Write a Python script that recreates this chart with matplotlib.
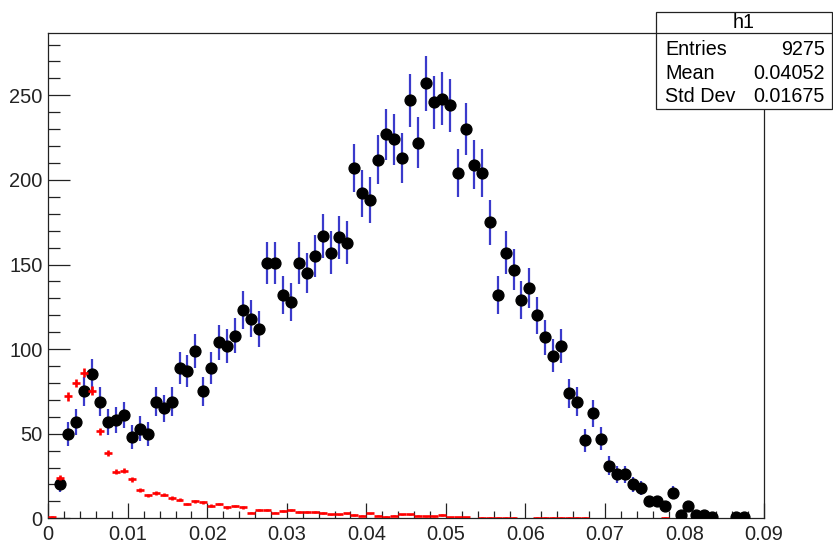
import numpy as np
import matplotlib
matplotlib.use('Agg')
import matplotlib.pyplot as plt
from matplotlib.ticker import MultipleLocator, FuncFormatter
from matplotlib.patches import Rectangle
from matplotlib.lines import Line2D

plt.rcParams['font.family'] = ['Liberation Sans', 'DejaVu Sans']

# binning: 90 bins of width 0.001 from 0 to 0.09
bin_width = 0.001
bin_centers = np.arange(90) * bin_width + 0.5 * bin_width

# h1 contents (black points), one per bin
h1_counts = [0, 20, 50, 57, 75, 85, 69, 57, 58, 61,
             48, 53, 50, 69, 65, 69, 89, 87, 99, 75,
             89, 104, 102, 108, 123, 118, 112, 151, 151, 132,
             128, 151, 145, 155, 167, 157, 166, 163, 207, 192,
             188, 212, 227, 224, 213, 247, 222, 257, 246, 248,
             244, 204, 230, 209, 204, 175, 132, 157, 147, 129,
             136, 120, 107, 96, 102, 74, 69, 46, 62, 47,
             31, 26, 26, 20, 18, 10, 10, 7, 15, 2,
             7, 2, 2, 1, 0, 0, 1, 1, 0, 0]

# scaled reference histogram (red)
h2_counts = [1.0, 24, 72, 80, 86, 75.5, 51.5, 38.5, 27.5, 28,
             23, 17, 13.5, 15, 14, 12, 11, 8.5, 10, 9.4,
             7.5, 8.4, 6.4, 7.3, 6.4, 3.4, 4.9, 4.9, 3.4, 4.3,
             4.9, 3.9, 3.9, 3.9, 3.3, 2.3, 2.3, 2.9, 2.0, 1.5,
             2.9, 1.4, 1.0, 1.5, 2.3, 2.3, 1.4, 1.3, 1.2, 2.0,
             0.5, 0.5, 0.5, 0, 0.4, 0.4, 0.4, 0.4, 0.4, 0,
             0, 0.4, 0.4, 0.4, 0.4, 0.4, 0.4, 0.4, 0, 0,
             0, 0, 0, 0, 0, 0, 0, 0.4, 0, 0,
             0, 0, 0, 0, 0, 0, 0, 0, 0, 0]
h2_weight = 0.08

h1_entries = 9275
h1_mean = 0.04052
h1_std = 0.01675

x_ticks = [0, 0.01, 0.02, 0.03, 0.04, 0.05, 0.06, 0.07, 0.08, 0.09]
y_ticks = [0, 50, 100, 150, 200, 250]

W, H = 833, 543
fig = plt.figure(figsize=(W / 100, H / 100), dpi=100)
ax = fig.add_axes([48.3 / W, 1 - 518.3 / H, (764 - 48.3) / W, (518.3 - 32.7) / H])

h1 = np.array(h1_counts, dtype=float)
h2 = np.array(h2_counts, dtype=float)

m1 = h1 > 0
ax.errorbar(bin_centers[m1], h1[m1], yerr=np.sqrt(h1[m1]), fmt='o',
            color='black', ms=7.8, ecolor='#3a3acb', elinewidth=1.6,
            capsize=0, zorder=3)

m2 = h2 > 0
ax.errorbar(bin_centers[m2], h2[m2], xerr=0.5 * bin_width,
            yerr=np.sqrt(h2_weight * h2[m2]), fmt='none',
            ecolor='#ff0000', elinewidth=1.9, capsize=0, zorder=4)

ax.set_xlim(0, 0.09)
ax.set_ylim(0, 287)
ax.set_xticks(x_ticks)
ax.set_yticks(y_ticks)
ax.xaxis.set_minor_locator(MultipleLocator(0.002))
ax.yaxis.set_minor_locator(MultipleLocator(10))
ax.xaxis.set_major_formatter(FuncFormatter(lambda v, p: '%g' % round(v, 3)))
ax.tick_params(axis='both', which='both', direction='in', labelsize=14.4,
               colors='#222222', width=0.9)
ax.tick_params(axis='x', which='major', length=10.5, pad=5)
ax.tick_params(axis='x', which='minor', length=5.2)
ax.tick_params(axis='y', which='major', length=15.8, pad=4)
ax.tick_params(axis='y', which='minor', length=8.5)
for s in ax.spines.values():
    s.set_linewidth(0.9)
    s.set_color('#222222')

# stats box
bx0, bx1, by0, by1 = 656, 832, 11.7, 109
ysep = 33.3
fx = lambda px: px / W
fy = lambda py: 1 - py / H
fig.patches.append(Rectangle((fx(bx0), fy(by1)), fx(bx1) - fx(bx0), fy(by0) - fy(by1),
                             transform=fig.transFigure, facecolor='white',
                             edgecolor='#222222', linewidth=0.9, zorder=10))
fig.lines.append(Line2D([fx(bx0), fx(bx1)], [fy(ysep), fy(ysep)],
                        transform=fig.transFigure, color='#222222',
                        linewidth=0.9, zorder=11))
fig.text(fx(744), fy(22.5), 'h1', ha='center', va='center', fontsize=14.2, zorder=12)
rows = [('Entries', '%d' % h1_entries), ('Mean', '%.5f' % h1_mean),
        ('Std Dev', '%.5f' % h1_std)]
for i, (lab, val) in enumerate(rows):
    yy = fy(49.5 + i * 23.7)
    fig.text(fx(665), yy, lab, ha='left', va='center', fontsize=14.2, zorder=12)
    fig.text(fx(825), yy, val, ha='right', va='center', fontsize=14.2, zorder=12)

fig.savefig('out.png', dpi=100)
